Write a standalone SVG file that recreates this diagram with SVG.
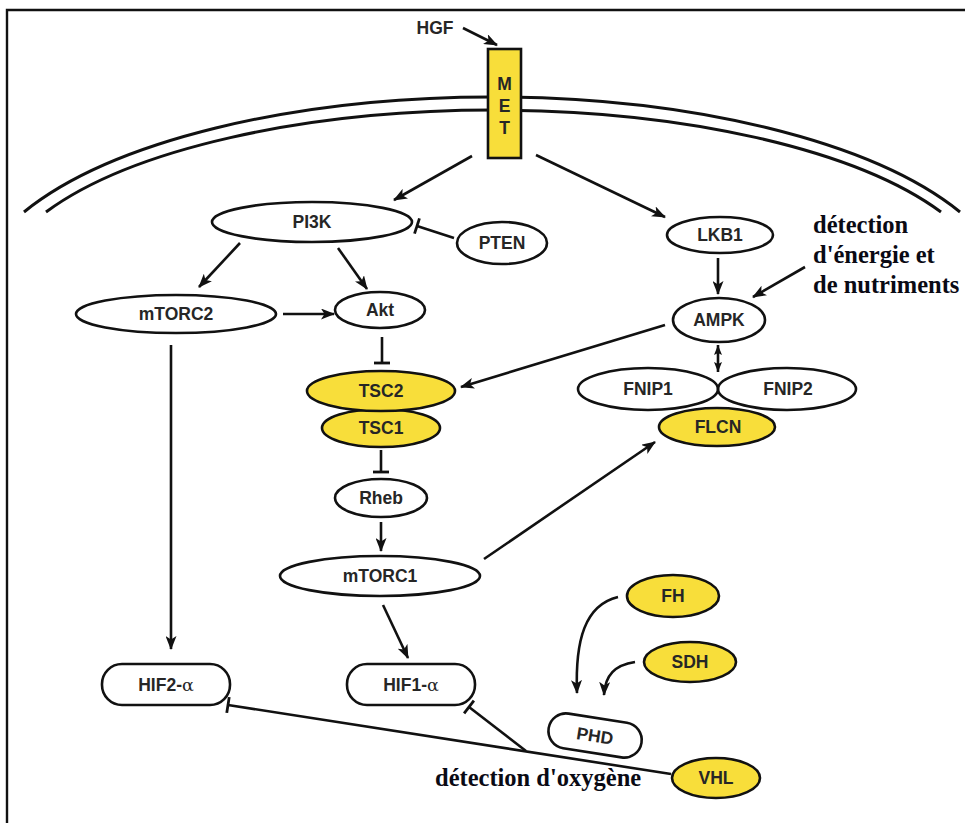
<svg xmlns="http://www.w3.org/2000/svg" width="965" height="823" viewBox="0 0 965 823">
<defs>
<style>
.node{fill:#fff;stroke:#111;stroke-width:2.6}
.open{fill:none;stroke:#111;stroke-width:2.6}
.y{fill:#F8DE3A}
.lbl{font-family:"Liberation Sans",Arial,sans-serif;font-weight:bold;font-size:17.5px;fill:#262626;text-anchor:middle}
.ser{font-family:"Liberation Serif","Times New Roman",serif;font-weight:bold;font-size:24.5px;fill:#0a0a14}
.c{fill:none;stroke:#111;stroke-width:2.6}
.mem{fill:none;stroke:#111;stroke-width:3}
</style>
<marker id="arr" viewBox="0 0 14 11" refX="13" refY="5.5" markerWidth="14" markerHeight="11" markerUnits="userSpaceOnUse" orient="auto"><path d="M0,0 L14,5.5 L0,11 L3.5,5.5 Z" fill="#111"/></marker>
<marker id="sarr" viewBox="0 0 10 8" refX="10" refY="4" markerWidth="10" markerHeight="8" markerUnits="userSpaceOnUse" orient="auto-start-reverse"><path d="M0,0 L10,4 L0,8 L2,4 Z" fill="#111"/></marker>
<marker id="bar" viewBox="0 -9 4 18" refX="2" refY="0" markerWidth="4" markerHeight="18" markerUnits="userSpaceOnUse" orient="auto"><path d="M2,-8 V8" stroke="#111" stroke-width="2.8"/></marker>
</defs>
<rect width="965" height="823" fill="#fff"/>
<g id="frame">
<path d="M7,823 V10 H965" fill="none" stroke="#111" stroke-width="2.4"/>
</g>
<g id="membrane">
<path class="mem" d="M24,212 A520,204 0 0 1 960,212"/>
<path class="mem" d="M46,212 A500,184 0 0 1 941,212"/>
</g>
<g id="connectors">
<path class="c" d="M463,28 L497,45" marker-end="url(#arr)"/>
<path class="c" d="M472,156 L394,200" marker-end="url(#arr)"/>
<path class="c" d="M536,155 L665,217" marker-end="url(#arr)"/>
<path class="c" d="M454,238 L417,226" marker-end="url(#bar)"/>
<path class="c" d="M240,243 L199,287" marker-end="url(#arr)"/>
<path class="c" d="M338,248 L367,289" marker-end="url(#arr)"/>
<path class="c" d="M283,314 L334,314" marker-end="url(#arr)"/>
<path class="c" d="M382,337 L382,363" marker-end="url(#bar)"/>
<path class="c" d="M381,450 L381,472" marker-end="url(#bar)"/>
<path class="c" d="M381,522 L381,551" marker-end="url(#arr)"/>
<path class="c" d="M383,605 L408,658" marker-end="url(#arr)"/>
<path class="c" d="M171,345 L171,649" marker-end="url(#arr)"/>
<path class="c" d="M718,258 L718,294" marker-end="url(#arr)"/>
<path class="c" d="M805,267 L753,297" marker-end="url(#arr)"/>
<path class="c" d="M665,325 L461,387" marker-end="url(#arr)"/>
<path class="c" d="M718,345 L718,372" marker-start="url(#sarr)" marker-end="url(#sarr)" stroke-width="2"/>
<path class="c" d="M484,559 L655,442" marker-end="url(#arr)"/>
<path class="c" d="M618,597 C585,605 575,640 577,693" marker-end="url(#arr)"/>
<path class="c" d="M635,662 C615,665 605,675 604,695" marker-end="url(#arr)"/>
<path class="c" d="M671,774 L228,705" marker-end="url(#bar)"/>
<path class="c" d="M526,751 L469,707" marker-end="url(#bar)"/>
</g>
<g id="MET">
<rect x="488" y="49" width="33" height="109" class="node y"/>
<text class="lbl" x="504.5" y="90">M</text>
<text class="lbl" x="504.5" y="112">E</text>
<text class="lbl" x="504.5" y="134">T</text>
</g>
<g id="HGF"><text class="lbl" x="435" y="34">HGF</text></g>
<g id="PI3K"><ellipse cx="312" cy="222" rx="100" ry="20" class="node"/><text class="lbl" x="312" y="228">PI3K</text></g>
<g id="PTEN"><ellipse cx="502" cy="243" rx="45" ry="21" class="node"/><text class="lbl" x="502" y="249">PTEN</text></g>
<g id="mTORC2"><ellipse cx="176" cy="314" rx="100" ry="19" class="node"/><text class="lbl" x="176" y="320">mTORC2</text></g>
<g id="Akt"><ellipse cx="380" cy="310" rx="45" ry="18" class="node"/><text class="lbl" x="380" y="316">Akt</text></g>
<g id="TSC1"><ellipse cx="381" cy="428" rx="59" ry="19" class="node y"/><text class="lbl" x="381" y="434">TSC1</text></g>
<g id="TSC2"><ellipse cx="381" cy="391" rx="74" ry="20" class="node y"/><text class="lbl" x="381" y="397">TSC2</text></g>
<g id="Rheb"><ellipse cx="381" cy="498" rx="46" ry="19" class="node"/><text class="lbl" x="381" y="504">Rheb</text></g>
<g id="mTORC1"><ellipse cx="380" cy="576" rx="100" ry="20" class="node"/><text class="lbl" x="380" y="582">mTORC1</text></g>
<g id="HIF2a"><rect x="102" y="664" width="128" height="41" rx="20" class="node"/><text class="lbl" x="166" y="691">HIF2-<tspan font-weight="normal" font-family="'DejaVu Serif',serif">α</tspan></text></g>
<g id="HIF1a"><rect x="347" y="664" width="128" height="41" rx="20" class="node"/><text class="lbl" x="411" y="691">HIF1-<tspan font-weight="normal" font-family="'DejaVu Serif',serif">α</tspan></text></g>
<g id="LKB1"><ellipse cx="720" cy="235" rx="53" ry="18" class="node"/><text class="lbl" x="720" y="241">LKB1</text></g>
<g id="AMPK"><ellipse cx="719" cy="320" rx="46" ry="22" class="node"/><text class="lbl" x="719" y="326">AMPK</text></g>
<g id="FNIP1"><ellipse cx="648" cy="389" rx="70" ry="21" class="open"/><text class="lbl" x="648" y="395">FNIP1</text></g>
<g id="FNIP2"><ellipse cx="787" cy="389" rx="69" ry="21" class="open"/><text class="lbl" x="788" y="395">FNIP2</text></g>
<g id="FLCN"><ellipse cx="717" cy="427" rx="58" ry="19" class="node y"/><text class="lbl" x="718" y="433">FLCN</text></g>
<g id="FH"><ellipse cx="673" cy="596" rx="46" ry="21" class="node y"/><text class="lbl" x="673" y="602">FH</text></g>
<g id="SDH"><ellipse cx="690" cy="662" rx="46" ry="20" class="node y"/><text class="lbl" x="690" y="668">SDH</text></g>
<g id="PHD" transform="rotate(9 595 736)"><rect x="548" y="718" width="94" height="35" rx="17.5" class="node"/><text class="lbl" x="595" y="742">PHD</text></g>
<g id="VHL"><ellipse cx="716" cy="778" rx="44" ry="20" class="node y"/><text class="lbl" x="716" y="784">VHL</text></g>
<g id="energy"><text class="ser" x="813" y="233">détection</text><text class="ser" x="813" y="263">d'énergie et</text><text class="ser" x="813" y="293">de nutriments</text></g>
<g id="oxygen"><text class="ser" x="435" y="786" font-size="25.2">détection d'oxygène</text></g>
</svg>
